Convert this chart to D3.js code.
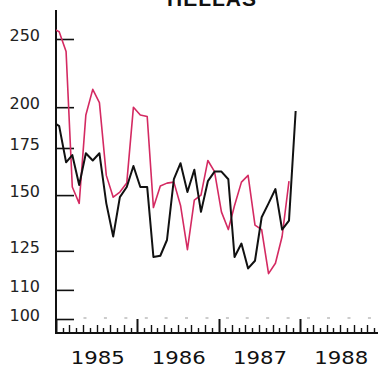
<!DOCTYPE html>
<html><head><meta charset="utf-8">
<script src="https://cdn.jsdelivr.net/npm/d3@7/dist/d3.min.js"></script>
<style>
html,body{margin:0;padding:0;background:#fff;}
svg{display:block;}
</style></head><body>
<svg id="chart" width="378" height="370"></svg>
<script>
// ---- data ----
const title = "HELLAS";
const startMonth = "1984-12";          // first monthly value (Dec 1984), then one value per month
const blackSeries = [191, 188, 167, 171, 155, 172, 168, 172, 146, 131, 149, 154,
                     165, 154, 154, 122.5, 123, 129.5, 158, 166.5, 151.5, 163, 142, 157,
                     162, 162, 158, 122.5, 128, 118, 121, 139.5, 146, 153, 134, 138, 197.5];
const pinkSeries  = [259, 256, 240, 154, 146, 195, 212, 203, 160, 149, 151.5, 156,
                     200, 195, 194, 144, 154.5, 156, 156.5, 145, 125.5, 147.5, 150, 168,
                     162, 142, 134, 145, 156.5, 160, 136, 134, 116, 120, 131, 157];
const yTicks = [100, 110, 125, 150, 175, 200, 250];
const yearLabels = ["1985", "1986", "1987", "1988"];

// ---- chart ----
const svg = d3.select("#chart");
const parse = d3.timeParse("%Y-%m");
const t0 = parse(startMonth);
const dateAt = i => d3.timeDay.offset(d3.timeMonth.offset(t0, i), 13);

const xStart = new Date(1985, 0, 1), xEnd = new Date(1989, 0, 1);
const x = d3.scaleTime().domain([xStart, xEnd]).range([56.3, 381]);
const y = d3.scaleLog().domain([100, 250]).range([319, 39]);

const axisX = 56, axisTop = 10, axisBottom = 333;

svg.append("defs").append("clipPath").attr("id", "plot")
  .append("rect").attr("x", axisX).attr("y", 0).attr("width", 378 - axisX).attr("height", axisBottom);

// title (cut off at top, as in the original)
svg.append("text").attr("x", 212).attr("y", 6)
  .attr("text-anchor", "middle")
  .style("font-family", "'Liberation Sans', Arial, sans-serif")
  .style("font-weight", "bold").style("font-size", "21px").style("letter-spacing", "1px")
  .attr("fill", "#111").text(title);

// y axis
const yAxis = d3.axisLeft(y).tickValues(yTicks).tickSizeInner(-18).tickSizeOuter(0)
  .tickPadding(16).tickFormat(d3.format("d"));
const gy = svg.append("g").attr("transform", `translate(${axisX},0)`).call(yAxis);
gy.select(".domain").remove();
gy.selectAll(".tick line").attr("stroke", "#111").attr("stroke-width", 1.6);
gy.selectAll(".tick text").attr("dy", "0.1em").attr("fill", "#222")
  .style("font-family", "'DejaVu Sans', Verdana, sans-serif").style("font-size", "16px");

svg.append("line").attr("x1", axisX).attr("x2", axisX).attr("y1", axisTop).attr("y2", axisBottom + 1)
  .attr("stroke", "#111").attr("stroke-width", 2);

// x axis
svg.append("line").attr("x1", axisX - 1).attr("x2", 378).attr("y1", axisBottom).attr("y2", axisBottom)
  .attr("stroke", "#111").attr("stroke-width", 2);

const months = d3.timeMonth.range(xStart, xEnd);
svg.append("g").selectAll("line").data(months).join("line")
  .attr("x1", d => Math.round(x(d)) + 0.5).attr("x2", d => Math.round(x(d)) + 0.5)
  .attr("y1", axisBottom)
  .attr("y2", d => axisBottom - (d.getMonth() === 0 ? 14 : (d.getMonth() % 2 === 0 ? 8 : 5)))
  .attr("stroke", "#111").attr("stroke-width", d => d.getMonth() === 0 ? 2 : 1.4);

// faint quarter dashes
const dashes = months.filter(d => d.getMonth() % 3 === 0).map(d => d3.timeDay.offset(d3.timeMonth.offset(d, 1), 9));
svg.append("g").selectAll("line").data(dashes.filter(d => x(d) > 80)).join("line")
  .attr("x1", d => x(d) - 1.5).attr("x2", d => x(d) + 1.5)
  .attr("y1", 318).attr("y2", 318)
  .attr("stroke", "#aaa").attr("stroke-width", 1.2);

// year labels
svg.append("g").selectAll("text").data(yearLabels).join("text")
  .attr("x", d => x(new Date(+d, 6, 2)) + 1).attr("y", 364)
  .attr("text-anchor", "middle")
  .attr("textLength", 54).attr("lengthAdjust", "spacingAndGlyphs")
  .style("font-family", "'DejaVu Sans', Verdana, sans-serif").style("font-size", "17px")
  .attr("fill", "#111").text(d => d);

// lines
const line = d3.line().x((d, i) => x(dateAt(i))).y(d => y(d));
const plot = svg.append("g").attr("clip-path", "url(#plot)");
plot.append("path").datum(pinkSeries).attr("d", line)
  .attr("fill", "none").attr("stroke", "#d42a62").attr("stroke-width", 1.6).attr("stroke-linejoin", "round");
plot.append("path").datum(blackSeries).attr("d", line)
  .attr("fill", "none").attr("stroke", "#111").attr("stroke-width", 2).attr("stroke-linejoin", "round");
</script>
</body></html>
